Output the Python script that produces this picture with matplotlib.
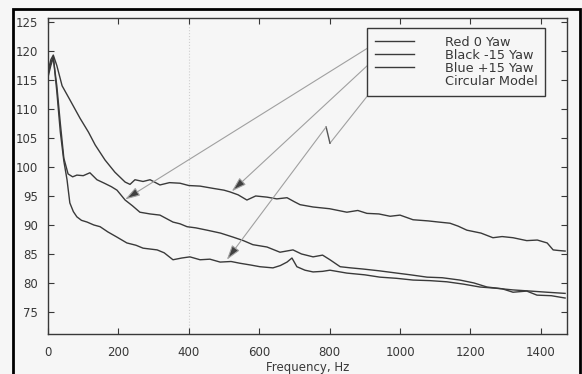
import numpy as np
import matplotlib.pyplot as plt
from matplotlib.lines import Line2D
from matplotlib.patches import Rectangle

# upper curve
f_top = [0, 8, 15, 25, 40, 62, 91, 115, 134, 162, 190, 219, 233, 247, 270, 290, 318, 345, 375, 400,
         432, 470, 500, 517, 540, 565, 590, 622, 650, 679, 700, 716, 753, 800, 849, 880, 906, 940, 972,
         1000, 1037, 1080, 1110, 1142, 1165, 1190, 1230, 1264, 1290, 1321, 1360, 1390, 1418, 1435, 1450, 1469]
v_top = [116.5, 118.5, 119.3, 117.5, 114.0, 111.6, 108.4, 106.0, 103.8, 101.2, 99.1, 97.4, 97.0, 97.8,
         97.5, 97.8, 96.9, 97.3, 97.2, 96.8, 96.7, 96.3, 96.0, 95.7, 95.2, 94.3, 95.0, 94.8, 94.5, 94.7,
         94.0, 93.5, 93.1, 92.8, 92.2, 92.5, 92.0, 91.9, 91.5, 91.7, 90.9, 90.7, 90.5, 90.3, 89.8, 89.1,
         88.6, 87.8, 88.0, 87.8, 87.3, 87.4, 86.9, 85.7, 85.6, 85.5]

# middle curve
f_mid = [0, 8, 15, 25, 35, 45, 57, 70, 82, 100, 119, 139, 160, 180, 196, 219, 240, 261, 290, 318, 355,
         375, 395, 420, 452, 490, 526, 555, 582, 622, 659, 696, 720, 753, 780, 801, 830, 860, 895, 940,
         991, 1030, 1077, 1120, 1170, 1210, 1247, 1290, 1321, 1360, 1389, 1430, 1469]
v_mid = [115.5, 117.5, 118.8, 114.0, 107.5, 101.5, 98.8, 98.3, 98.6, 98.5, 99.0, 97.8, 97.2, 96.6,
         96.0, 94.3, 93.3, 92.2, 91.9, 91.7, 90.5, 90.2, 89.7, 89.5, 89.1, 88.6, 87.9, 87.3, 86.6, 86.2,
         85.3, 85.7, 85.0, 84.5, 84.8, 84.0, 82.8, 82.6, 82.4, 82.1, 81.7, 81.4, 81.0, 80.9, 80.5, 80.0,
         79.3, 79.0, 78.4, 78.6, 77.9, 77.8, 77.4]

# lower curve
f_low = [0, 8, 15, 25, 35, 45, 54, 62, 72, 82, 95, 111, 130, 148, 170, 196, 224, 250, 270, 310, 330,
         355, 380, 403, 432, 460, 489, 520, 545, 575, 602, 639, 660, 679, 693, 707, 730, 753, 780, 801,
         849, 900, 943, 990, 1037, 1085, 1133, 1180, 1227, 1270, 1321, 1370, 1418, 1469]
v_low = [116.0, 118.0, 119.0, 113.0, 106.0, 101.0, 97.8, 93.8, 92.3, 91.4, 90.8, 90.5, 90.0, 89.7,
         88.8, 87.9, 86.9, 86.5, 86.0, 85.7, 85.2, 84.0, 84.3, 84.5, 84.0, 84.1, 83.6, 83.7, 83.4, 83.1,
         82.8, 82.6, 83.0, 83.6, 84.3, 82.8, 82.2, 81.9, 82.0, 82.2, 81.7, 81.4, 81.0, 80.8, 80.5, 80.4,
         80.2, 79.8, 79.3, 79.1, 78.8, 78.6, 78.4, 78.2]

labels = ['Red 0 Yaw', 'Black -15 Yaw', 'Blue +15 Yaw', 'Circular Model']
x_ticks = [0, 200, 400, 600, 800, 1000, 1200, 1400]
y_ticks = [75, 80, 85, 90, 95, 100, 105, 110, 115, 120, 125]

bg = '#f6f6f6'
ink = '#383838'
curve = '#3a3a3a'
pointer = '#a0a0a0'

plt.rcParams['font.family'] = ['DejaVu Sans']
fig = plt.figure(figsize=(5.82, 3.74), dpi=100, facecolor=bg)
ax = fig.add_axes([0.0825, 0.107, 0.8915, 0.845], facecolor=bg)

ax.axvline(400, ls=':', color='#cfcfcf', lw=0.8, zorder=0)

ax.plot(f_mid, v_mid, color=curve, lw=1.0)
ax.plot(f_top, v_top, color=curve, lw=1.0)
ax.plot(f_low, v_low, color=curve, lw=1.0)

ax.set_xlim(0, 1474)
ax.set_ylim(71.2, 125.7)
ax.set_xticks(x_ticks)
ax.set_yticks(y_ticks)
ax.tick_params(direction='in', top=True, right=True, length=4, width=0.8,
               colors=ink, labelsize=8.5, pad=7)
ax.tick_params(axis='x', pad=9)
for s in ax.spines.values():
    s.set_color(ink)
    s.set_linewidth(1.0)
ax.set_xlabel('Frequency, Hz', fontsize=8.5, color=ink, labelpad=1)

handles = [Line2D([], [], color=curve, lw=1.0) for _ in range(3)]
handles.append(Line2D([], [], color='none'))
leg = ax.legend(handles, labels, loc='upper left', bbox_to_anchor=(0.615, 0.968),
                fontsize=9.3, labelspacing=0.0, handlelength=3.0, handletextpad=2.4,
                borderpad=0.6, borderaxespad=0, fancybox=False, framealpha=1,
                facecolor=bg, edgecolor=ink)
leg.get_frame().set_linewidth(1.0)
for t in leg.get_texts():
    t.set_color(ink)

arrow = dict(arrowstyle='-|>,head_length=0.9,head_width=0.28', color=pointer,
             fc='#404040', lw=0.8, shrinkA=0, shrinkB=0)
ax.annotate('', xy=(219, 94.4), xytext=(937, 121.6), arrowprops=arrow)
ax.annotate('', xy=(522, 95.8), xytext=(943, 119.5), arrowprops=arrow)
# zigzag pointer for the lower curve
ax.plot([972, 801], [117.2, 104.1], color=pointer, lw=0.8)
ax.plot([801, 790], [104.1, 106.9], color='#555555', lw=1.0)
ax.annotate('', xy=(508, 84.0), xytext=(790, 106.9), arrowprops=arrow)

# scanned page border
fig.patches.append(Rectangle((0.0215, -0.01), 0.975, 0.9865, transform=fig.transFigure,
                             fill=False, edgecolor='black', lw=2.0))

fig.savefig('out.png', dpi=100, facecolor=bg)
